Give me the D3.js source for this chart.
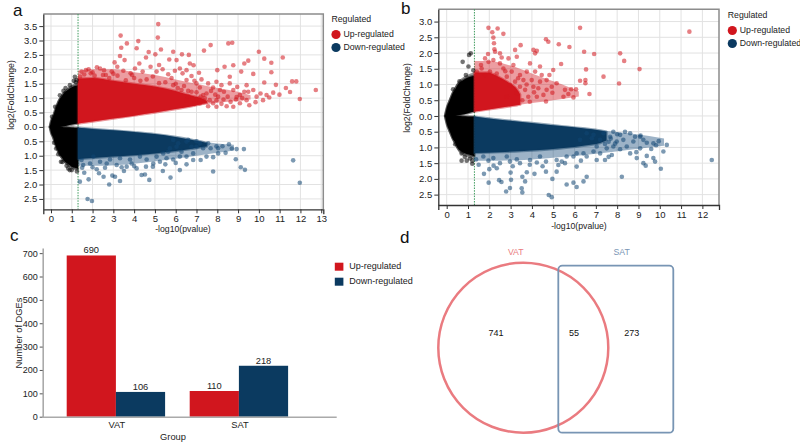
<!DOCTYPE html>
<html><head><meta charset="utf-8">
<script src="https://cdn.jsdelivr.net/npm/d3@7"></script>
<style>body{margin:0;background:#fff}svg{display:block;font-family:"Liberation Sans",Arial,sans-serif}</style>
</head><body><svg id="c" width="800" height="443"></svg>
<script>
// ---------------- DATA ----------------
const xTicksA = d3.range(0, 14);
const yTicksA = [-2.5,-2,-1.5,-1,-0.5,0,0.5,1,1.5,2,2.5,3,3.5];
const xTicksB = d3.range(0, 13);
const yTicksB = [-2.5,-2,-1.5,-1,-0.5,0,0.5,1,1.5,2,2.5,3];
const legendLabels = ["Up-regulated","Down-regulated"];

// dense cores: [x, top, wedgeTop, wedgeBottom, bottom]
const aNsCore = [[-0.06,0,0,0,0],[0,0.2,0,0,-0.2],[0.1,0.36,0,0,-0.36],[0.2,0.6,0,0,-0.6],[0.3,0.78,0,0,-0.78],[0.45,1.0,0,0,-1.0],[0.5,1.04,0.005,-0.005,-1.04],[0.6,1.15,0.02,-0.01,-1.15],[0.8,1.28,0.05,-0.015,-1.28],[1.0,1.38,0.08,-0.02,-1.38],[1.15,1.42,0.1,-0.025,-1.42],[1.3,1.45,0.12,-0.03,-1.45]];
const aNsFringe = [[-0.1,0.05,0,0,-0.05],[0,0.28,0,0,-0.28],[0.15,0.55,0,0,-0.55],[0.3,0.88,0,0,-0.88],[0.5,1.12,0.005,-0.005,-1.12],[0.8,1.36,0.05,-0.015,-1.36],[1.0,1.46,0.08,-0.02,-1.46],[1.3,1.55,0.12,-0.03,-1.52]];
// [x, top, bottom]
const aUpCore = [[1.3,1.68,0.12],[2,1.7,0.19],[3,1.6,0.29],[4,1.5,0.39],[5,1.4,0.5],[6,1.25,0.62],[6.8,1.08,0.72],[7.3,0.98,0.8],[7.5,0.9,0.83]];
const aUpFringe = [[1.3,1.95,0.12],[2,2.0,0.19],[3,2.0,0.29],[4,1.9,0.39],[5,1.8,0.5],[6,1.65,0.62],[7,1.5,0.74],[8,1.35,0.84],[9,1.22,0.9],[9.6,1.1,0.95]];
const aDownCore = [[1.3,-0.03,-1.12],[2,-0.07,-1.08],[3,-0.12,-1.03],[4,-0.18,-0.98],[5,-0.25,-0.92],[6,-0.35,-0.84],[6.8,-0.45,-0.76],[7.3,-0.52,-0.7],[7.5,-0.56,-0.68]];
const aDownFringe = [[1.3,-0.03,-1.35],[2.5,-0.09,-1.35],[4,-0.18,-1.28],[5.5,-0.3,-1.15],[7,-0.47,-1.0],[8,-0.58,-0.9],[8.8,-0.62,-0.82]];
const aUp = [[5.16,3.57],[5.14,3.10],[3.35,3.17],[4.2,2.98],[3.65,2.9],[4.12,2.73],[3.38,2.75],[4.7,2.6],[5.29,2.69],[5.88,2.61],[6.3,2.52],[6.63,2.5],[6.04,2.32],[7.36,2.65],[7.68,2.84],[8.53,2.9],[8.72,2.92],[10.0,2.61],[11.15,2.41],[10.26,2.37],[10.6,2.23],[9.49,2.3],[9.3,2.2],[8.77,2.14],[8.35,2.09],[8.0,1.97],[7.12,1.88],[10.6,1.9],[9.15,1.92],[3.32,2.46],[3.06,2.24],[3.54,2.32],[4.57,2.41],[5.02,2.52],[5.69,2.34],[6.68,2.2],[6.86,2.14],[5.2,2.15],[4.25,2.2],[2.21,2.07],[1.81,2.0],[2.55,1.97],[6.2,2.03],[9.73,1.84],[10.26,1.54],[10.82,1.46],[11.3,1.35],[11.6,1.58],[11.8,1.58],[12.74,1.28],[11.97,0.97],[11.5,1.21],[10.99,1.12],[10.5,1.02],[9.54,0.75],[9.84,0.86],[10.08,1.16],[10.69,1.19],[9.3,1.22],[8.96,1.39],[8.6,1.74],[8.6,1.51],[7.96,1.57],[8.32,1.22],[8.64,0.87],[8.93,1.04],[7.96,0.93],[7.48,1.16],[7.0,1.51],[6.52,1.63],[7.16,1.37],[8.45,0.72],[1.47,1.92],[1.68,1.97],[1.91,1.86],[2.36,2.03],[2.64,1.8],[2.92,1.92],[3.19,2.09],[3.48,1.95],[3.83,1.86],[4.04,2.03],[4.41,1.92],[4.79,2.09],[5.08,1.92],[5.37,2.0],[5.64,1.83],[5.96,1.95],[6.33,1.86],[6.76,1.77],[6.52,1.97],[7.24,1.65],[7.56,1.51],[7.8,1.37],[8.13,1.28],[8.77,1.28],[9.09,1.11],[9.41,0.93],[8.04,1.05],[7.64,0.93],[7.32,1.11],[7.0,0.93],[6.76,1.22],[6.28,1.28],[5.88,1.45],[6.52,0.93],[7.16,0.82],[7.56,0.72],[7.96,0.7],[8.77,0.7],[9.09,0.82],[9.89,1.05],[9.73,1.28],[9.41,1.45],[10.2,0.93],[10.37,1.11],[9.49,1.22],[5.5,1.55],[6.0,1.5],[6.4,1.42],[4.6,1.65],[4.0,1.7],[3.2,1.78],[2.5,1.8],[7.0,1.2],[6.6,1.05],[7.4,1.0],[6.9,0.8],[7.8,0.82],[8.3,0.95],[8.2,1.45],[1.4,1.75],[1.6,1.82],[2.1,1.78],[2.8,1.7],[3.6,1.62],[4.3,1.6],[5.2,1.52],[6.1,1.35],[6.6,1.25],[7.2,1.05],[7.9,1.12],[8.5,1.05],[8.9,0.95],[9.2,1.0],[8.2,0.8],[7.7,1.25],[6.9,1.6],[5.8,1.7],[4.9,1.75],[3.9,1.8],[3.0,1.85],[2.0,1.9]];
const aDown = [[1.39,-1.9],[1.76,-2.5],[1.97,-2.57],[1.81,-1.82],[1.6,-1.59],[2.2,-1.47],[2.31,-1.61],[2.53,-1.73],[2.8,-2.0],[3.32,-1.88],[2.95,-1.69],[3.08,-1.73],[3.64,-1.38],[3.51,-1.53],[4.12,-1.44],[4.36,-1.67],[4.52,-1.65],[4.73,-1.84],[4.57,-1.38],[5.38,-1.53],[5.75,-1.76],[6.2,-1.5],[6.52,-1.3],[5.88,-1.13],[5.56,-1.09],[7.8,-1.55],[6.52,-1.03],[7.48,-1.03],[6.84,-0.92],[7.32,-0.74],[7.68,-0.74],[8.04,-0.74],[8.25,-0.67],[8.56,-0.6],[8.93,-0.77],[9.28,-0.77],[8.89,-1.12],[9.13,-1.4],[9.33,-1.49],[11.65,-1.16],[11.97,-1.94],[8.04,-0.92],[7.16,-0.57],[7.0,-0.69],[6.52,-0.51],[5.88,-0.45],[6.28,-0.86],[6.04,-0.69],[5.64,-0.86],[5.24,-1.21],[4.92,-1.27],[3.88,-1.27],[3.16,-1.32],[2.68,-1.27],[1.88,-1.27],[1.55,-1.32],[1.47,-1.15],[2.04,-1.03],[2.36,-1.21],[2.84,-1.13],[3.32,-1.09],[3.8,-1.13],[4.28,-1.03],[4.6,-1.13],[5.08,-1.03],[5.4,-0.92],[5.72,-0.74],[6.12,-0.57],[6.76,-0.69],[7.56,-0.57],[7.96,-0.67],[6.2,-1.03],[6.84,-1.15],[1.5,-1.42],[2.0,-1.4],[2.6,-1.42],[3.4,-1.4],[4.0,-1.36],[4.9,-1.38],[5.5,-1.3],[6.0,-1.25],[7.2,-1.15],[7.8,-1.05],[8.4,-0.9],[8.7,-0.75],[7.0,-0.5],[6.6,-0.45]];
const aNs = [[0.83,-1.44],[1.15,1.74],[1.23,1.63],[0.48,-1.21],[1.07,-1.32],[0.67,-1.03],[0.43,1.1],[0.35,-0.95],[0.6,1.25],[0.75,-1.35],[0.91,1.45],[1.0,-1.5],[1.25,-1.55],[1.2,1.55],[0.2,0.7],[0.15,-0.55],[0.55,-1.22],[0.9,-1.5],[1.1,1.6],[0.7,1.35],[0.25,-0.75],[0.05,0.35]];

const bNsCore = [[-0.08,0,0,0,0],[0,0.25,0,0,-0.25],[0.15,0.5,0,0,-0.5],[0.3,0.75,0,0,-0.75],[0.4,0.85,0,0,-0.85],[0.5,0.98,0.015,-0.003,-1.0],[0.75,1.13,0.05,-0.008,-1.15],[1.0,1.22,0.09,-0.014,-1.22],[1.3,1.28,0.14,-0.02,-1.28]];
const bNsFringe = [[-0.12,0.05,0,0,-0.05],[0,0.33,0,0,-0.33],[0.15,0.6,0,0,-0.6],[0.4,0.95,0,0,-0.95],[0.5,1.06,0.015,-0.003,-1.08],[0.75,1.22,0.05,-0.008,-1.25],[1.0,1.32,0.09,-0.014,-1.32],[1.3,1.38,0.14,-0.02,-1.38]];
const bUpCore = [[1.3,1.38,0.14],[1.9,1.38,0.2],[2.5,1.22,0.26],[3.0,1.02,0.31],[3.3,0.85,0.34],[3.45,0.68,0.36]];
const bUpFringe = [[1.3,1.75,0.14],[2,1.75,0.21],[3,1.6,0.31],[4,1.35,0.41],[5,1.1,0.5],[5.8,0.9,0.58],[6.2,0.78,0.62]];
const bDownCore = [[1.3,-0.02,-1.18],[2.5,-0.12,-1.15],[4,-0.22,-1.1],[5.5,-0.33,-1.02],[6.5,-0.4,-0.94],[7.2,-0.46,-0.86],[7.5,-0.5,-0.78]];
const bDownFringe = [[1.3,-0.02,-1.42],[2.5,-0.12,-1.42],[4,-0.22,-1.38],[5.5,-0.33,-1.3],[7,-0.45,-1.2],[8.5,-0.55,-1.08],[9.5,-0.64,-1.0],[10.2,-0.72,-0.95]];
const bUp = [[1.96,2.8],[2.39,2.78],[2.14,2.66],[2.19,2.49],[2.66,2.61],[2.22,2.31],[2.24,2.12],[2.27,2.04],[2.5,1.99],[1.94,1.97],[3.21,2.1],[3.47,2.25],[4.07,2.1],[4.23,2.07],[4.15,1.99],[4.66,2.44],[4.77,2.36],[5.26,2.28],[5.76,2.19],[6.26,2.8],[6.45,2.04],[6.92,1.97],[8.14,1.99],[8.33,1.75],[9.05,1.49],[11.39,2.68],[7.36,1.25],[8.09,1.03],[6.54,1.48],[6.51,1.14],[6.26,1.12],[6.51,1.04],[6.7,0.7],[5.84,0.85],[6.07,0.85],[5.37,1.65],[5.0,1.46],[4.82,1.3],[5.16,1.04],[5.55,0.83],[5.48,0.61],[4.96,0.74],[4.66,0.46],[4.23,0.61],[4.38,1.57],[3.91,1.67],[3.29,1.88],[2.9,1.83],[2.58,1.86],[1.96,1.72],[1.61,1.62],[3.76,1.41],[4.38,1.09],[4.69,0.83],[5.95,0.59],[5.71,0.7],[4.07,0.93],[3.6,1.14],[4.69,1.14],[4.93,0.93],[1.41,1.41],[1.64,1.51],[1.8,1.3],[2.03,1.41],[2.35,1.35],[2.66,1.51],[2.82,1.25],[3.05,1.41],[3.21,1.09],[3.44,0.93],[3.29,0.72],[3.68,0.83],[3.83,0.61],[3.99,1.14],[3.44,1.3],[2.97,0.98],[2.82,0.61],[4.3,0.88],[4.54,0.67],[4.46,1.3],[4.15,1.41],[3.13,1.62],[2.5,1.67],[2.19,1.78],[1.8,1.83],[3.55,0.5],[3.9,0.45],[4.1,0.75],[3.75,1.0],[3.35,1.2],[2.75,1.42]];
const bDown = [[1.96,-1.42],[1.38,-1.38],[1.75,-1.84],[1.97,-2.12],[2.0,-1.69],[2.35,-1.66],[2.46,-2.04],[2.57,-2.1],[2.79,-2.4],[2.97,-2.29],[3.02,-2.03],[3.0,-1.8],[3.52,-2.3],[3.55,-2.43],[3.55,-1.93],[3.68,-2.08],[3.76,-1.79],[4.12,-1.84],[4.66,-1.77],[4.79,-2.51],[4.93,-2.58],[4.96,-2.0],[5.16,-1.77],[5.63,-2.18],[5.95,-2.12],[6.1,-2.26],[6.42,-2.08],[6.1,-1.61],[6.57,-1.93],[7.04,-1.4],[7.43,-1.4],[7.2,-1.19],[7.75,-1.24],[8.22,-1.93],[8.61,-1.19],[8.92,-1.34],[9.23,-1.5],[9.34,-1.58],[9.39,-1.27],[9.7,-1.34],[9.78,-1.45],[10.05,-1.68],[10.17,-1.13],[10.33,-0.92],[9.83,-0.93],[9.39,-0.85],[9.08,-1.03],[8.84,-0.66],[8.61,-0.55],[8.29,-0.76],[8.14,-0.6],[7.98,-0.81],[7.67,-0.66],[7.43,-0.89],[12.44,-1.4],[7.82,-0.97],[7.04,-0.97],[6.57,-1.29],[6.1,-1.19],[5.55,-1.5],[5.24,-1.56],[4.23,-1.48],[3.44,-1.5],[2.97,-1.45],[2.5,-1.5],[6.26,-0.76],[6.81,-0.71],[7.2,-0.76],[8.14,-1.06],[6.57,-0.55],[6.89,-0.6],[7.36,-0.55],[7.82,-0.5],[8.37,-0.5],[9.08,-0.66],[9.23,-0.76],[9.7,-0.87],[8.76,-0.81],[8.45,-0.97],[7.51,-1.03],[6.89,-1.13],[6.42,-1.19],[5.95,-1.29],[5.63,-1.29],[5.16,-1.4],[4.66,-1.45],[4.38,-1.29],[3.91,-1.4],[3.29,-1.38],[2.82,-1.29],[2.19,-1.34],[1.72,-1.29],[1.5,-1.55],[2.2,-1.58],[3.1,-1.6],[3.9,-1.55],[4.5,-1.6],[5.4,-1.45],[6.3,-1.42],[7.6,-1.3],[8.9,-1.15],[9.6,-1.05],[9.95,-0.8],[9.1,-0.62],[8.0,-0.58],[7.7,-0.72],[7.9,-0.88],[7.6,-0.82]];
const bNs = [[0.75,1.72],[1.05,1.94],[1.13,1.99],[1.02,1.57],[0.7,-1.19],[0.7,-1.42],[0.94,-1.42],[1.2,-1.52],[0.6,1.1],[0.9,1.3],[0.4,-0.9],[1.1,-1.35],[1.25,1.45],[0.85,-1.3],[0.3,0.85],[1.2,-1.42]];

// bar chart
const groups = ["VAT","SAT"];
const upCounts = [690, 110];
const downCounts = [106, 218];
const barTicks = [0,100,200,300,400,500,600,700];
// venn
const setNames = ["VAT","SAT"];
const vennCounts = [741, 55, 273];

// ---------------- STYLE ----------------
const RED = "#d1161e", BLUE = "#0b3a60", BLACK = "#000";
const svg = d3.select("#c");

function volcano(o){
  const x = d3.scaleLinear().domain(o.xd).range([o.l, o.r]);
  const y = d3.scaleLinear().domain(o.yd).range([o.b, o.t]);
  const g = svg.append("g");
  g.append("g").selectAll("line").data(o.xt).join("line")
    .attr("x1", d=>x(d)).attr("x2", d=>x(d)).attr("y1", o.t).attr("y2", o.b)
    .attr("stroke", "#e2e2e2").attr("stroke-width", 1);
  g.append("g").selectAll("line").data(o.yt).join("line")
    .attr("y1", d=>y(d)).attr("y2", d=>y(d)).attr("x1", o.l).attr("x2", o.r)
    .attr("stroke", "#e2e2e2").attr("stroke-width", 1);
  g.append("path").attr("d", `M${o.l},${o.t}H${o.r}V${o.b}`)
    .attr("fill", "none").attr("stroke", "#8c8c8c").attr("stroke-width", 1.5);
  g.append("line").attr("x1", x(1.301)).attr("x2", x(1.301)).attr("y1", o.t).attr("y2", o.b)
    .attr("stroke", "#3d9a5c").attr("stroke-width", 1).attr("stroke-dasharray", "1.5,1.2");

  const crv = d3.curveMonotoneX;
  const areaUp = d3.area().x(d=>x(d[0])).y1(d=>y(d[1])).y0(d=>y(d[2])).curve(crv);
  const areaDn = d3.area().x(d=>x(d[0])).y1(d=>y(d[3])).y0(d=>y(d[4])).curve(crv);
  const area3 = d3.area().x(d=>x(d[0])).y1(d=>y(d[1])).y0(d=>y(d[2])).curve(crv);
  // medium-density fringes
  g.append("path").attr("d", areaUp(o.nsF)).attr("fill", "#3a3a3a").attr("fill-opacity", 0.55);
  g.append("path").attr("d", areaDn(o.nsF)).attr("fill", "#3a3a3a").attr("fill-opacity", 0.55);
  g.append("path").attr("d", area3(o.upF)).attr("fill", RED).attr("fill-opacity", 0.42);
  g.append("path").attr("d", area3(o.dnF)).attr("fill", "#15497a").attr("fill-opacity", 0.42);
  // dense cores (soft edge)
  const core = (d, c) => g.append("path").attr("d", d).attr("fill", c)
    .attr("stroke", c).attr("stroke-opacity", 0.45).attr("stroke-width", 2.4).attr("stroke-linejoin", "round");
  core(areaUp(o.ns), BLACK); core(areaDn(o.ns), BLACK);
  core(area3(o.upCore), RED); core(area3(o.dnCore), BLUE);

  const pts = [[o.nsPts, BLACK, 0.55], [o.upPts, RED, 0.55], [o.dnPts, "#114572", 0.55]];
  pts.forEach(([arr, col, op]) => {
    g.append("g").selectAll("circle").data(arr).join("circle")
      .attr("cx", d=>x(d[0])).attr("cy", d=>y(d[1])).attr("r", 2.3)
      .attr("fill", col).attr("fill-opacity", op);
  });

  const xa = g.append("g").attr("transform", `translate(0,${o.b})`)
    .call(d3.axisBottom(x).tickValues(o.xt).tickSize(4).tickSizeOuter(5).tickPadding(2).tickFormat(d3.format("d")));
  const ya = g.append("g").attr("transform", `translate(${o.l},0)`)
    .call(d3.axisLeft(y).tickValues(o.yt).tickSize(4).tickSizeOuter(0).tickPadding(2).tickFormat(d => Math.abs(d).toFixed(1)));
  [xa, ya].forEach(a => {
    a.select(".domain").attr("stroke", "#333").attr("stroke-width", 1.3);
    a.selectAll(".tick line").attr("stroke", "#333");
    a.selectAll("text").attr("font-size", 9.5).attr("fill", "#222").attr("font-family", "Liberation Sans, Arial, sans-serif");
  });
  g.append("text").attr("x", o.xtX).attr("y", o.xtY).attr("text-anchor", "middle")
    .attr("dominant-baseline", "middle").attr("font-size", 8.7).attr("fill", "#222").text("-log10(pvalue)");
  g.append("text").attr("transform", `translate(${o.ytX},${o.ytY}) rotate(-90)`).attr("text-anchor", "middle")
    .attr("dominant-baseline", "middle").attr("font-size", 8.7).attr("fill", "#222").text("log2(FoldChange)");
  // legend
  g.append("text").attr("x", o.lgX - 4.5).attr("y", o.lgY).attr("dominant-baseline", "middle")
    .attr("font-size", 8.7).attr("fill", "#222").text("Regulated");
  [RED, BLUE].forEach((c, i) => {
    const cy = o.lgY + 14.5 + i * 13;
    g.append("circle").attr("cx", o.lgX).attr("cy", cy).attr("r", 4.6).attr("fill", c);
    g.append("text").attr("x", o.lgX + 7.5).attr("y", cy).attr("dominant-baseline", "middle")
      .attr("font-size", 8.7).attr("fill", "#222").text(legendLabels[i]);
  });
}

volcano({l:43.3, r:323.3, t:14, b:209.3, xd:[-0.37, 13.1], yd:[-2.86, 3.92], xt:xTicksA, yt:yTicksA,
  ns:aNsCore, nsF:aNsFringe, upCore:aUpCore, upF:aUpFringe, dnCore:aDownCore, dnF:aDownFringe,
  nsPts:aNs, upPts:aUp, dnPts:aDown, xtX:183, xtY:230, ytX:12, ytY:95, lgX:336, lgY:20});
volcano({l:438.3, r:719, t:9.3, b:205, xd:[-0.394, 12.78], yd:[-2.83, 3.39], xt:xTicksB, yt:yTicksB,
  ns:bNsCore, nsF:bNsFringe, upCore:bUpCore, upF:bUpFringe, dnCore:bDownCore, dnF:bDownFringe,
  nsPts:bNs, upPts:bUp, dnPts:bDown, xtX:579, xtY:226.5, ytX:408, ytY:98, lgX:732.3, lgY:16});

// ---------------- BAR CHART ----------------
(function(){
  const g = svg.append("g");
  const x0 = d3.scaleBand().domain(groups).range([54.4, 300.4]).paddingInner(0.2).paddingOuter(0.1);
  const x1 = d3.scaleBand().domain(["up","down"]).range([0, x0.bandwidth()]);
  const y = d3.scaleLinear().domain([0, 722]).range([416.7, 248]);
  const rows = groups.map((gname, i) => [{g:gname, k:"up", v:upCounts[i]}, {g:gname, k:"down", v:downCounts[i]}]).flat();
  g.selectAll("rect.bar").data(rows).join("rect").attr("class", "bar")
    .attr("x", d => x0(d.g) + x1(d.k)).attr("width", x1.bandwidth())
    .attr("y", d => y(d.v)).attr("height", d => y(0) - y(d.v))
    .attr("fill", d => d.k === "up" ? RED : BLUE);
  g.selectAll("text.val").data(rows).join("text").attr("class", "val")
    .attr("x", d => x0(d.g) + x1(d.k) + x1.bandwidth()/2).attr("y", d => y(d.v) - 2)
    .attr("text-anchor", "middle").attr("font-size", 9.3).attr("fill", "#222").text(d => d.v);
  const ya = g.append("g").attr("transform", "translate(42.7,0)")
    .call(d3.axisLeft(y).tickValues(barTicks).tickSize(3).tickSizeOuter(0).tickPadding(2));
  ya.select(".domain").attr("stroke", "#aaa").attr("stroke-width", 1.6);
  ya.selectAll(".tick line").attr("stroke", "#555");
  ya.selectAll("text").attr("font-size", 9).attr("fill", "#222").attr("font-family", "Liberation Sans, Arial, sans-serif");
  g.append("line").attr("x1", 42.7).attr("x2", 336.7).attr("y1", 417.3).attr("y2", 417.3)
    .attr("stroke", "#aaa").attr("stroke-width", 1.4);
  g.selectAll("text.grp").data(groups).join("text").attr("class", "grp")
    .attr("x", d => x0(d) + x0.bandwidth()/2 + 1).attr("y", 426).attr("text-anchor", "middle")
    .attr("dominant-baseline", "middle").attr("font-size", 9.3).attr("fill", "#222").text(d => d);
  g.append("text").attr("x", 173).attr("y", 438).attr("text-anchor", "middle").attr("dominant-baseline", "middle")
    .attr("font-size", 9.3).attr("fill", "#222").text("Group");
  g.append("text").attr("transform", "translate(20,333) rotate(-90)").attr("text-anchor", "middle")
    .attr("dominant-baseline", "middle").attr("font-size", 9.3).attr("fill", "#222").text("Number of DGEs");
  [RED, BLUE].forEach((c, i) => {
    const cy = 266.7 + i * 15;
    g.append("rect").attr("x", 334.8).attr("y", cy - 4).attr("width", 8.6).attr("height", 8).attr("fill", c);
    g.append("text").attr("x", 349.3).attr("y", cy).attr("dominant-baseline", "middle")
      .attr("font-size", 9).attr("fill", "#222").text(legendLabels[i]);
  });
})();

// ---------------- VENN ----------------
(function(){
  const g = svg.append("g");
  g.append("circle").attr("cx", 523.3).attr("cy", 347.7).attr("r", 85)
    .attr("fill", "none").attr("stroke", "#ea7b80").attr("stroke-width", 2.5);
  g.append("rect").attr("x", 558.3).attr("y", 265.7).attr("width", 115).attr("height", 167).attr("rx", 4)
    .attr("fill", "none").attr("stroke", "#7895b4").attr("stroke-width", 1.8);
  const setCol = ["#ea7b80", "#7895b4"];
  const setX = [515.7, 621.7];
  setNames.forEach((s, i) => g.append("text").attr("x", setX[i]).attr("y", 252.3).attr("text-anchor", "middle")
    .attr("dominant-baseline", "middle").attr("font-size", 8.7).attr("fill", setCol[i]).text(s));
  const cx = [496, 574, 631.7];
  vennCounts.forEach((v, i) => g.append("text").attr("x", cx[i]).attr("y", 334).attr("text-anchor", "middle")
    .attr("dominant-baseline", "middle").attr("font-size", 9).attr("fill", "#111").text(v));
})();

// panel letters
[["a",13,15.5],["b",401,13.5],["c",10,241],["d",400,242.5]].forEach(([t,x,y]) =>
  svg.append("text").attr("x", x).attr("y", y).attr("font-size", 17).attr("fill", "#111").text(t));
</script></body></html>
